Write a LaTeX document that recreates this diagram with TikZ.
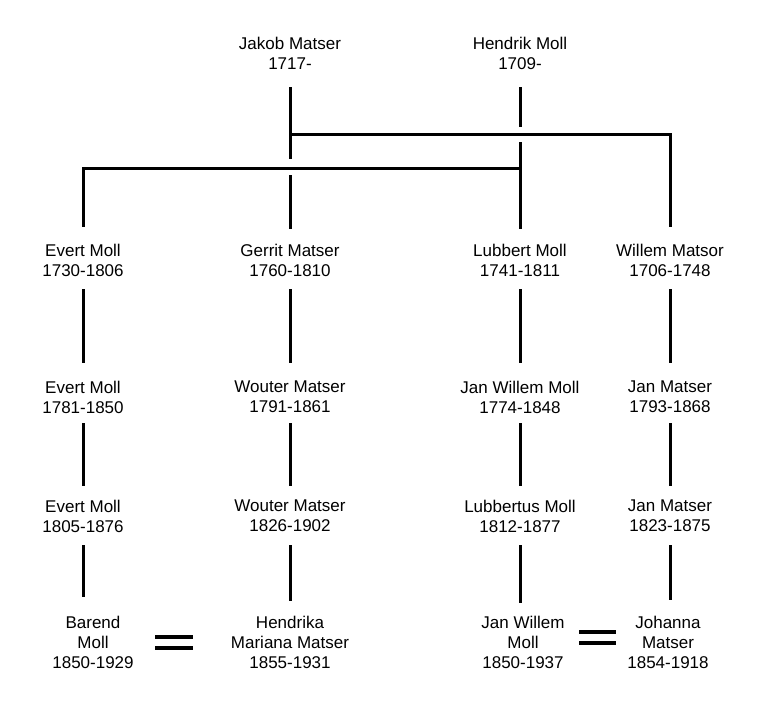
\documentclass[tikz,border=0pt]{standalone}
\usepackage{fontspec}
\setmainfont{Liberation Sans}
\begin{document}
\begin{tikzpicture}[x=1pt,y=-1pt,
  person/.style={align=center,inner sep=0pt,font=\fontsize{17}{20}\selectfont},
  link/.style={line width=3pt,line cap=butt},
  eq/.style={line width=3.2pt}]
\useasboundingbox (0,0) rectangle (766,712);
% top generation
\node[person] (jakob) at (290,53) {Jakob Matser\\1717-};
\node[person] (hendrik) at (520,53) {Hendrik Moll\\1709-};
% row 1
\node[person] (e1) at (83,260) {Evert Moll\\1730-1806};
\node[person] (g1) at (290,260) {Gerrit Matser\\1760-1810};
\node[person] (l1) at (520,260) {Lubbert Moll\\1741-1811};
\node[person] (w1) at (670,260) {Willem Matsor\\1706-1748};
% row 2
\node[person] (e2) at (83,397) {Evert Moll\\1781-1850};
\node[person] (g2) at (290,397) {Wouter Matser\\1791-1861};
\node[person] (l2) at (520,397) {Jan Willem Moll\\1774-1848};
\node[person] (w2) at (670,397) {Jan Matser\\1793-1868};
% row 3
\node[person] (e3) at (83,516) {Evert Moll\\1805-1876};
\node[person] (g3) at (290,516) {Wouter Matser\\1826-1902};
\node[person] (l3) at (520,516) {Lubbertus Moll\\1812-1877};
\node[person] (w3) at (670,516) {Jan Matser\\1823-1875};
% row 4
\node[person] (e4) at (93,642) {Barend\\Moll\\1850-1929};
\node[person] (g4) at (290,642) {Hendrika\\Mariana Matser\\1855-1931};
\node[person] (l4) at (523,642) {Jan Willem\\Moll\\1850-1937};
\node[person] (w4) at (668,642) {Johanna\\Matser\\1854-1918};
% bars
\coordinate (ubar) at (0,134);
\coordinate (lbar) at (0,168);
% top connections
\draw[link] ([yshift=-34pt]jakob.center) -- ([yshift=-106pt]jakob.center);
\draw[link] (jakob.center |- ubar) -| ([yshift=33pt]w1.center);
\draw[link] ([yshift=-122pt]jakob.center) -- ([yshift=31pt]g1.center);
\draw[link] ([yshift=-34pt]hendrik.center) -- ([yshift=-74pt]hendrik.center);
\draw[link] ([yshift=-89pt]hendrik.center) -- ([yshift=31pt]l1.center);
\draw[link] (l1.center |- lbar) -| ([yshift=33pt]e1.center);
% row 1 -> row 2
\foreach \a/\b in {e1/e2,g1/g2,l1/l2,w1/w2}
  \draw[link] ([yshift=-29pt]\a.center) -- ([yshift=34pt]\b.center);
% row 2 -> row 3
\foreach \a/\b in {e2/e3,g2/g3,l2/l3,w2/w3}
  \draw[link] ([yshift=-26pt]\a.center) -- ([yshift=30pt]\b.center);
% row 3 -> row 4
\draw[link] ([yshift=-29pt]e3.center) -- ([yshift=-81pt]e3.center);
\draw[link] ([yshift=-29pt]g3.center) -- ([yshift=-85pt]g3.center);
\draw[link] ([yshift=-29pt]l3.center) -- ([yshift=-87pt]l3.center);
\draw[link] ([yshift=-29pt]w3.center) -- ([yshift=-84pt]w3.center);
% marriage signs
\coordinate (mL) at (174,642.5);
\coordinate (mR) at (597.5,637.5);
\draw[eq] ([xshift=-19pt,yshift=5.5pt]mL) -- ([xshift=19pt,yshift=5.5pt]mL);
\draw[eq] ([xshift=-19pt,yshift=-5.5pt]mL) -- ([xshift=19pt,yshift=-5.5pt]mL);
\draw[eq] ([xshift=-18.5pt,yshift=5.5pt]mR) -- ([xshift=18.5pt,yshift=5.5pt]mR);
\draw[eq] ([xshift=-18.5pt,yshift=-5.5pt]mR) -- ([xshift=18.5pt,yshift=-5.5pt]mR);
\end{tikzpicture}
\end{document}
